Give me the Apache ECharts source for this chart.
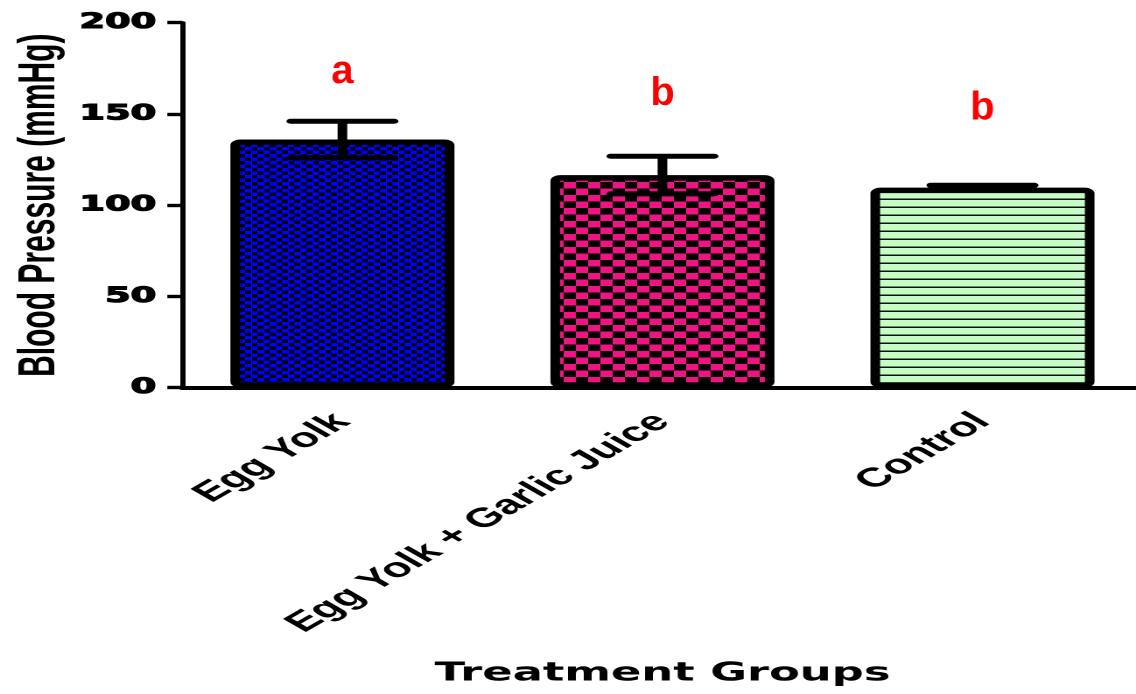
<!DOCTYPE html>
<html>
<head>
<meta charset="utf-8">
<script src="https://cdn.jsdelivr.net/npm/echarts@6/dist/echarts.min.js"></script>
<style>
  html, body { margin: 0; padding: 0; background: #fff; overflow: hidden; }
  #wrap { width: 1136px; height: 694px; overflow: hidden; }
  /* the figure is drawn narrow and widened horizontally */
  #chart { width: 649px; height: 694px; transform: scaleX(1.7504); transform-origin: 0 0; }
</style>
</head>
<body>
<div id="wrap"><div id="chart"></div></div>
<script>
// Blood pressure by treatment group (mean ± SD, mmHg)
const groups = ['Egg Yolk', 'Egg Yolk + Garlic Juice', 'Control'];
const means = [136, 116.5, 109.6];
const sds = [10, 10.3, 1.3];

// significance letters and the value level they sit at
const letters = ['a', 'b', 'b'];
const letterLevels = [173, 161, 153];

// value axis ticks
const yMin = 0;
const yMax = 200;
const yStep = 50;

const STRETCH = 1.7504;

// builds a repeating fill drawn at double resolution
function makePattern(w, h, draw) {
  const c = document.createElement('canvas');
  c.width = w * 2;
  c.height = h * 2;
  const ctx = c.getContext('2d');
  ctx.scale(2, 2);
  draw(ctx, w, h);
  return { image: c, repeat: 'repeat', scaleX: 0.5, scaleY: 0.5 };
}

const blueChecks = makePattern(7, 7, (ctx, w, h) => {
  ctx.fillStyle = '#000000'; ctx.fillRect(0, 0, w, h);
  ctx.fillStyle = '#0000ff';
  ctx.fillRect(0, 0, w / 2 + 0.5, h / 2);
  ctx.fillRect(w / 2, h / 2, w / 2 + 0.5, h / 2);
});

const pinkChecks = makePattern(14, 13, (ctx, w, h) => {
  ctx.fillStyle = '#000000'; ctx.fillRect(0, 0, w, h);
  ctx.fillStyle = '#f01482';
  ctx.fillRect(0, 0, w / 2, h / 2);
  ctx.fillRect(w / 2, h / 2, w / 2, h / 2);
});

const greenLines = makePattern(1, 8, (ctx, w, h) => {
  ctx.fillStyle = '#c6fcc6'; ctx.fillRect(0, 0, w, h);
  ctx.fillStyle = '#111111';
  ctx.fillRect(0, 6.5, w, 1.5);
});

const fills = [blueChecks, pinkChecks, greenLines];

const chart = echarts.init(document.getElementById('chart'), null, {
  renderer: 'canvas',
  devicePixelRatio: 2
});

const option = {
  animation: false,
  backgroundColor: '#ffffff',
  grid: {
    left: 104.2, top: 22.7, width: 548.5, bottom: 306.3,
    containLabel: false, outerBoundsMode: 'none'
  },
  xAxis: {
    type: 'category',
    data: groups,
    name: 'Treatment Groups',
    nameLocation: 'middle',
    nameGap: 273,
    nameMoveOverlap: false,
    nameTextStyle: {
      color: '#000', fontFamily: '"DejaVu Sans", sans-serif',
      fontWeight: 'bold', fontSize: 25.6
    },
    axisLine: { lineStyle: { color: '#000', width: 4 } },
    axisTick: { alignWithLabel: true, length: 9, lineStyle: { color: '#000', width: 3 } },
    axisLabel: {
      interval: 0, rotate: 45, margin: 30,
      color: '#000', fontFamily: '"Liberation Sans", Arial, sans-serif',
      fontWeight: 'bold', fontSize: 27
    },
    splitLine: { show: false }
  },
  yAxis: {
    type: 'value',
    min: yMin, max: yMax, interval: yStep,
    name: 'Blood Pressure (mmHg)',
    nameLocation: 'middle',
    nameGap: 66.5,
    nameMoveOverlap: false,
    nameTextStyle: {
      color: '#000', fontFamily: '"Liberation Sans", Arial, sans-serif',
      fontWeight: 'bold', fontSize: 30
    },
    axisLine: { show: true, lineStyle: { color: '#000', width: 3 } },
    axisTick: { show: true, length: 8.6, lineStyle: { color: '#000', width: 3.4 } },
    axisLabel: {
      margin: 15, color: '#000',
      fontFamily: '"DejaVu Sans", sans-serif', fontWeight: 'bold', fontSize: 21,
      textBorderColor: '#000', textBorderWidth: 1.1
    },
    splitLine: { show: false }
  },
  series: [
    {
      type: 'bar',
      barWidth: 128,
      z: 2,
      data: means.map((v, i) => ({
        value: v,
        itemStyle: {
          color: fills[i],
          borderColor: '#000',
          borderWidth: 5.5,
          borderRadius: 3
        }
      }))
    },
    {
      // error bars: mean ± SD
      type: 'custom',
      z: 3,
      encode: { x: 0, y: 1 },
      data: groups.map((g, i) => [i, means[i], sds[i]]),
      renderItem(params, api) {
        const c = api.value(0);
        const m = api.value(1);
        const s = api.value(2);
        const top = api.coord([c, m + s]);
        const bot = api.coord([c, m - s]);
        const half = 29.5;
        return {
          type: 'group',
          children: [
            { type: 'line', shape: { x1: top[0], y1: top[1], x2: bot[0], y2: bot[1] },
              style: { stroke: '#000', lineWidth: 5.5 } },
            { type: 'line', shape: { x1: top[0] - half, y1: top[1], x2: top[0] + half, y2: top[1] },
              style: { stroke: '#000', lineWidth: 5, lineCap: 'round' } },
            { type: 'line', shape: { x1: bot[0] - half, y1: bot[1], x2: bot[0] + half, y2: bot[1] },
              style: { stroke: '#000', lineWidth: 5, lineCap: 'round' } }
          ]
        };
      }
    },
    {
      // significance letters, drawn at natural width
      type: 'custom',
      z: 4,
      encode: { x: 0, y: 1 },
      data: letters.map((t, i) => [i, letterLevels[i]]),
      renderItem(params, api) {
        const p = api.coord([api.value(0), api.value(1)]);
        return {
          type: 'text',
          x: p[0],
          y: p[1],
          scaleX: 1 / STRETCH,
          style: {
            text: letters[params.dataIndex],
            fill: '#ff0000',
            font: 'bold 40px "Liberation Sans", Arial, sans-serif',
            align: 'center',
            verticalAlign: 'middle'
          }
        };
      }
    }
  ]
};

chart.setOption(option);
</script>
</body>
</html>
